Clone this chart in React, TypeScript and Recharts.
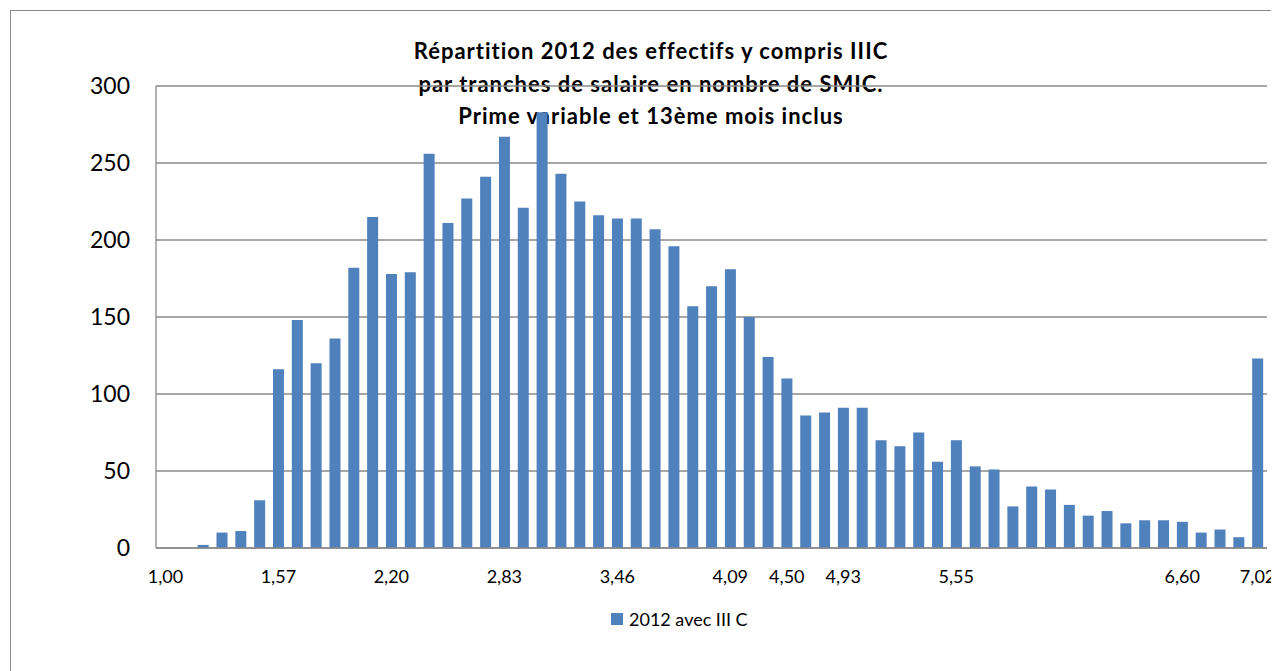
import React from "react";
import { BarChart, Bar, XAxis, YAxis, CartesianGrid, Legend } from "recharts";

const titleLines = [
  "Répartition 2012 des effectifs y compris IIIC",
  "par tranches de salaire en nombre de SMIC.",
  "Prime variable et 13ème mois inclus",
];

const seriesName = "2012 avec III C";

const tickLabels = [
  "1,00", "", "", "", "", "", "1,57", "", "", "", "", "", "2,20", "", "", "", "", "",
  "2,83", "", "", "", "", "", "3,46", "", "", "", "", "", "4,09", "", "", "4,50", "", "",
  "4,93", "", "", "", "", "", "5,55", "", "", "", "", "", "", "", "", "", "", "",
  "6,60", "", "", "", "7,02",
];

const values = [
  0, 0, 2, 10, 11, 31, 116, 148, 120, 136, 182, 215, 178, 179, 256, 211, 227, 241,
  267, 221, 283, 243, 225, 216, 214, 214, 207, 196, 157, 170, 181, 150, 124, 110,
  86, 88, 91, 91, 70, 66, 75, 56, 70, 53, 51, 27, 40, 38, 28, 21, 24, 16, 18, 18,
  17, 10, 12, 7, 123,
];

const yTicks = [0, 50, 100, 150, 200, 250, 300];

const data = values.map((v, i) => ({ bin: i, value: v }));

const FONT = "Lato, 'Open Sans', sans-serif";
const BLUE = "#4F81BD";
const GRID = "#8a8a8a";

const LegendContent = () => (
  <div style={{ display: "flex", alignItems: "center", height: 24, fontFamily: FONT, fontSize: 18, color: "#000" }}>
    <span style={{ display: "inline-block", width: 12, height: 12, background: BLUE, marginRight: 6 }} />
    <span>{seriesName}</span>
  </div>
);

export default function App() {
  return (
    <div
      style={{
        position: "relative",
        width: 1300,
        height: 700,
        marginLeft: 2,
        marginTop: 2,
        border: "1px solid #8a8a8a",
        boxSizing: "border-box",
        fontFamily: FONT,
        background: "#fff",
      }}
    >
      <div
        style={{
          position: "absolute",
          left: 290,
          top: 24,
          width: 700,
          textAlign: "center",
          fontWeight: 700,
          fontSize: 22,
          letterSpacing: 1,
          lineHeight: "32.5px",
          color: "#000",
        }}
      >
        {titleLines.map((t, i) => (
          <div key={i}>{t}</div>
        ))}
      </div>
      <div style={{ position: "absolute", left: 0, top: 0 }}>
        <BarChart
          width={1269}
          height={660}
          data={data}
          margin={{ top: 75, right: 13, left: 85, bottom: 59 }}
        >
          <CartesianGrid vertical={false} horizontal={true} stroke={GRID} strokeWidth={1.3} />
          <XAxis
            dataKey="bin"
            type="category"
            interval={0}
            tickLine={false}
            tickSize={0}
            tickMargin={22}
            height={40}
            tickFormatter={(v: number) => tickLabels[v] ?? ""}
            axisLine={{ stroke: GRID, strokeWidth: 1.3 }}
            tick={{ fill: "#000", fontSize: 18, fontFamily: FONT }}
          />
          <YAxis
            domain={[0, 300]}
            ticks={yTicks}
            width={60}
            tickLine={false}
            tickSize={0}
            tickMargin={26}
            axisLine={{ stroke: GRID, strokeWidth: 1.3 }}
            tick={{ fill: "#000", fontSize: 23, fontFamily: FONT }}
          />
          <Legend
            content={<LegendContent />}
            wrapperStyle={{ position: "absolute", left: 600, top: 596, width: 220, height: 24 }}
          />
          <Bar dataKey="value" name={seriesName} fill={BLUE} barSize={11} isAnimationActive={false} />
        </BarChart>
      </div>
    </div>
  );
}
